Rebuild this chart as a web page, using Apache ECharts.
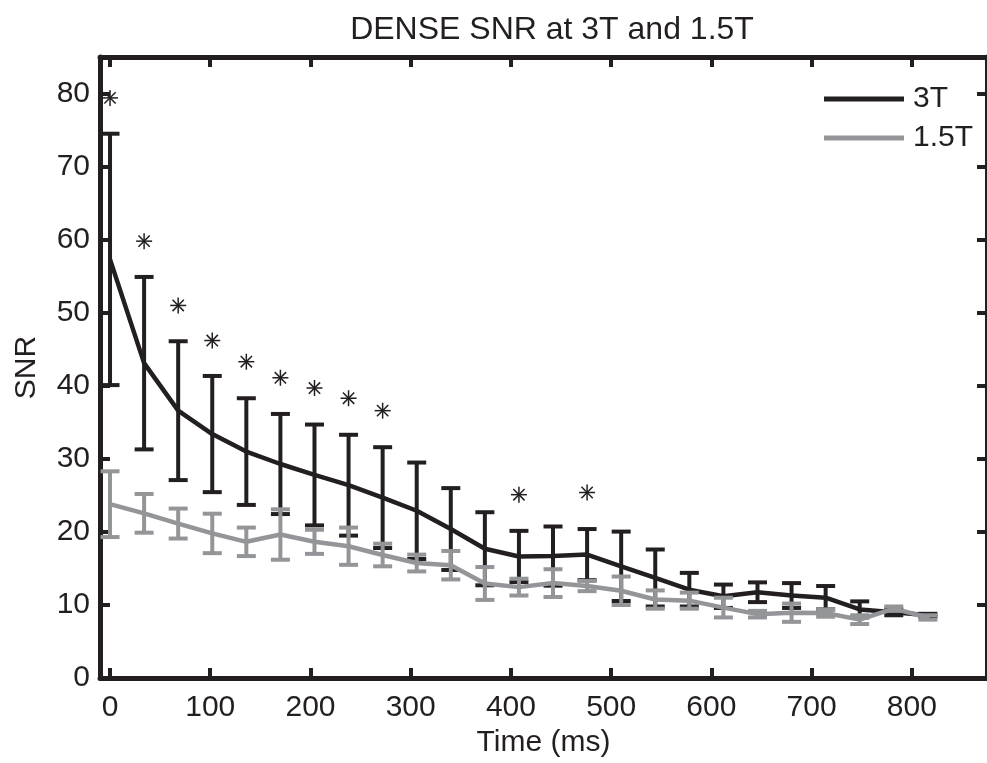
<!DOCTYPE html>
<html>
<head>
<meta charset="utf-8">
<script src="https://cdn.jsdelivr.net/npm/echarts@6/dist/echarts.min.js"></script>
<style>
  html, body { margin: 0; padding: 0; background: #fff; }
  #chart { width: 987px; height: 763px; }
</style>
</head>
<body>
<div id="chart"></div>
<script>
// valores
var tempos = [0, 34, 68, 102, 136, 170, 204, 238, 272, 306, 340, 374, 408, 442, 476, 510, 544, 578, 612, 646, 680, 714, 748, 782, 816];

var media3T = [57.3, 43.1, 36.6, 33.4, 31.0, 29.3, 27.8, 26.4, 24.7, 22.9, 20.4, 17.7, 16.65, 16.7, 16.9, 15.3, 13.7, 12.1, 11.2, 11.75, 11.3, 11.0, 9.4, 9.0, 8.6];
var erro3T  = [17.2, 11.8, 9.5, 7.95, 7.3, 6.85, 6.9, 6.9, 6.9, 6.6, 5.6, 5.0, 3.5, 4.05, 3.5, 4.75, 3.9, 2.3, 1.6, 1.35, 1.7, 1.6, 1.1, 0.4, 0.2];

var media15T = [23.8, 22.55, 21.15, 19.8, 18.65, 19.65, 18.65, 18.05, 16.85, 15.75, 15.45, 12.95, 12.45, 13.0, 12.6, 11.95, 10.75, 10.6, 9.65, 8.75, 8.95, 8.9, 8.0, 9.5, 8.3];
var erro15T  = [4.5, 2.65, 2.05, 2.7, 1.95, 3.45, 1.65, 2.55, 1.55, 1.15, 1.95, 2.25, 1.15, 1.9, 0.7, 1.95, 1.25, 1.1, 1.35, 0.45, 1.25, 0.5, 0.6, 0.3, 0.3];

// asteriscos de significancia
var estrelasX = [0, 34, 68, 102, 136, 170, 204, 238, 272, 408, 476];
var estrelasY = [79.4, 59.8, 51.0, 46.2, 43.3, 41.1, 39.7, 38.3, 36.6, 25.1, 25.4];

var ticksX = [0, 100, 200, 300, 400, 500, 600, 700, 800];
var ticksY = [0, 10, 20, 30, 40, 50, 60, 70, 80];

var PRETO = '#231f20';
var CINZA = '#939598';
var FONTE = "'Liberation Sans', Arial, Helvetica, sans-serif";

function montaLinha(medias) {
    return tempos.map(function (t, i) { return [t, medias[i]]; });
}
function montaErro(medias, erros) {
    return tempos.map(function (t, i) { return [t, medias[i] - erros[i], medias[i] + erros[i]]; });
}

function desenhaErro(cor) {
    return function (params, api) {
        var x = api.value(0);
        var lo = api.coord([x, api.value(1)]);
        var hi = api.coord([x, api.value(2)]);
        var hw = 9.5;
        var st = { stroke: cor, lineWidth: 4 };
        return {
            type: 'group',
            children: [
                { type: 'line', shape: { x1: lo[0], y1: lo[1], x2: hi[0], y2: hi[1] }, style: st },
                { type: 'line', shape: { x1: lo[0] - hw, y1: lo[1], x2: lo[0] + hw, y2: lo[1] }, style: st },
                { type: 'line', shape: { x1: hi[0] - hw, y1: hi[1], x2: hi[0] + hw, y2: hi[1] }, style: st }
            ]
        };
    };
}

function desenhaEstrela(params, api) {
    var c = api.coord([api.value(0), api.value(1)]);
    var r = 8;
    var filhos = [];
    for (var k = 0; k < 4; k++) {
        var a = k * Math.PI / 4;
        var dx = Math.cos(a) * r, dy = Math.sin(a) * r;
        filhos.push({
            type: 'line',
            shape: { x1: c[0] - dx, y1: c[1] - dy, x2: c[0] + dx, y2: c[1] + dy },
            style: { stroke: PRETO, lineWidth: 1.5 }
        });
    }
    return { type: 'group', children: filhos };
}

var eixoLinha = { show: true, onZero: false, lineStyle: { color: PRETO, width: 5 } };

var chart = echarts.init(document.getElementById('chart'));
chart.setOption({
    animation: false,
    backgroundColor: '#fff',
    textStyle: { fontFamily: FONTE },
    title: {
        text: 'DENSE SNR at 3T and 1.5T',
        left: 547, top: 9, textAlign: 'center',
        textStyle: { fontFamily: FONTE, fontSize: 32, fontWeight: 'normal', color: PRETO }
    },
    legend: {
        orient: 'vertical',
        left: 819, top: 79,
        itemWidth: 80, itemHeight: 5, itemGap: 9,
        icon: 'rect',
        data: ['3T', '1.5T'],
        textStyle: { fontFamily: FONTE, fontSize: 30, color: PRETO, padding: [0, 0, 0, 4] }
    },
    grid: { left: 100, top: 57, width: 893.5, height: 625 },
    xAxis: [{
        type: 'value', min: -10, max: 875, position: 'bottom',
        axisLine: eixoLinha,
        axisTick: { inside: true, length: 10, lineStyle: { color: PRETO, width: 4 }, customValues: ticksX },
        axisLabel: { customValues: ticksX, fontSize: 30, color: PRETO, margin: 15, fontFamily: FONTE },
        splitLine: { show: false },
        name: 'Time (ms)', nameLocation: 'middle', nameGap: 46,
        nameTextStyle: { fontSize: 30, color: PRETO, fontFamily: FONTE }
    }, {
        type: 'value', min: -10, max: 875, position: 'top',
        axisLine: eixoLinha,
        axisTick: { inside: true, length: 10, lineStyle: { color: PRETO, width: 4 }, customValues: ticksX },
        axisLabel: { show: false },
        splitLine: { show: false }
    }],
    yAxis: [{
        type: 'value', min: 0, max: 85, position: 'left',
        axisLine: eixoLinha,
        axisTick: { inside: true, length: 10, lineStyle: { color: PRETO, width: 4 }, customValues: ticksY },
        axisLabel: { customValues: ticksY, fontSize: 30, color: PRETO, margin: 10, fontFamily: FONTE },
        splitLine: { show: false },
        name: 'SNR', nameLocation: 'middle', nameGap: 58, nameRotate: 90,
        nameTextStyle: { fontSize: 30, color: PRETO, fontFamily: FONTE }
    }, {
        type: 'value', min: 0, max: 85, position: 'right',
        axisLine: eixoLinha,
        axisTick: { inside: true, length: 10, lineStyle: { color: PRETO, width: 4 }, customValues: ticksY },
        axisLabel: { show: false },
        splitLine: { show: false }
    }],
    series: [
        {
            name: 'erro3T', type: 'custom', renderItem: desenhaErro(PRETO),
            data: montaErro(media3T, erro3T), encode: { x: 0, y: [1, 2] }, z: 2
        },
        {
            name: '3T', type: 'line', data: montaLinha(media3T), showSymbol: false,
            itemStyle: { color: PRETO }, lineStyle: { color: PRETO, width: 4.5 }, z: 3
        },
        {
            name: 'erro15T', type: 'custom', renderItem: desenhaErro(CINZA),
            data: montaErro(media15T, erro15T), encode: { x: 0, y: [1, 2] }, z: 4
        },
        {
            name: '1.5T', type: 'line', data: montaLinha(media15T), showSymbol: false,
            itemStyle: { color: CINZA }, lineStyle: { color: CINZA, width: 4.5 }, z: 5
        },
        {
            name: 'estrelas', type: 'custom', renderItem: desenhaEstrela,
            data: estrelasX.map(function (x, i) { return [x, estrelasY[i]]; }),
            encode: { x: 0, y: 1 }, z: 6
        }
    ]
});
</script>
</body>
</html>
